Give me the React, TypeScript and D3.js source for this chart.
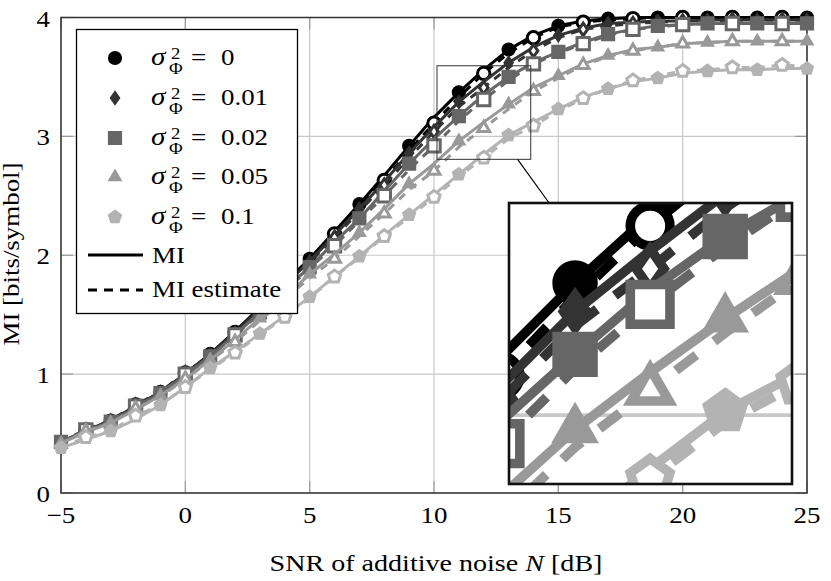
import React from 'react';
import * as d3 from 'd3';

// SNR grid in dB
const snrDb = [-5, -4, -3, -2, -1, 0, 1, 2, 3, 4, 5, 6, 7, 8, 9, 10, 11, 12, 13, 14, 15, 16, 17, 18, 19, 20, 21, 22, 23, 24, 25];
const sigmaLabels = ['0', '0.01', '0.02', '0.05', '0.1'];

// MI (solid) and MI estimate (dashed), bits/symbol
const miSigma0 = [0.43, 0.52, 0.61, 0.73, 0.85, 1.00, 1.17, 1.36, 1.56, 1.77, 1.97, 2.20, 2.43, 2.67, 2.92, 3.16, 3.37, 3.56, 3.73, 3.85, 3.93, 3.97, 3.99, 4.00, 4.00, 4.00, 4.00, 4.00, 4.00, 4.00, 4.00];
const estSigma0 = [0.43, 0.53, 0.61, 0.74, 0.85, 1.01, 1.16, 1.35, 1.55, 1.76, 1.96, 2.18, 2.41, 2.63, 2.88, 3.11, 3.33, 3.53, 3.70, 3.83, 3.92, 3.96, 3.98, 3.99, 4.00, 4.00, 4.00, 4.00, 4.00, 4.00, 4.00];
const miSigma001 = [0.43, 0.52, 0.61, 0.73, 0.85, 1.00, 1.17, 1.35, 1.55, 1.75, 1.95, 2.17, 2.39, 2.62, 2.86, 3.08, 3.29, 3.46, 3.62, 3.75, 3.85, 3.91, 3.95, 3.96, 3.97, 3.97, 3.98, 3.98, 3.98, 3.98, 3.98];
const estSigma001 = [0.43, 0.53, 0.61, 0.74, 0.85, 1.01, 1.16, 1.34, 1.54, 1.74, 1.94, 2.15, 2.37, 2.59, 2.82, 3.04, 3.25, 3.41, 3.58, 3.72, 3.83, 3.90, 3.93, 3.95, 3.96, 3.97, 3.97, 3.98, 3.98, 3.98, 3.98];
const miSigma002 = [0.43, 0.52, 0.60, 0.72, 0.84, 0.99, 1.15, 1.33, 1.52, 1.71, 1.90, 2.11, 2.31, 2.54, 2.77, 2.98, 3.17, 3.35, 3.50, 3.62, 3.71, 3.79, 3.86, 3.90, 3.93, 3.94, 3.95, 3.95, 3.95, 3.95, 3.95];
const estSigma002 = [0.43, 0.53, 0.60, 0.73, 0.84, 1.00, 1.14, 1.33, 1.51, 1.70, 1.89, 2.08, 2.29, 2.50, 2.72, 2.92, 3.13, 3.31, 3.47, 3.61, 3.70, 3.78, 3.85, 3.90, 3.92, 3.94, 3.95, 3.95, 3.95, 3.95, 3.95];
const miSigma005 = [0.42, 0.51, 0.59, 0.70, 0.82, 0.96, 1.12, 1.29, 1.47, 1.65, 1.84, 2.01, 2.19, 2.39, 2.60, 2.77, 2.96, 3.12, 3.27, 3.41, 3.51, 3.61, 3.68, 3.73, 3.75, 3.78, 3.79, 3.80, 3.80, 3.80, 3.80];
const estSigma005 = [0.42, 0.52, 0.59, 0.71, 0.81, 0.96, 1.11, 1.27, 1.45, 1.63, 1.81, 1.97, 2.16, 2.35, 2.55, 2.71, 2.91, 3.07, 3.23, 3.38, 3.49, 3.60, 3.67, 3.72, 3.75, 3.78, 3.79, 3.80, 3.80, 3.80, 3.80];
const miSigma01 = [0.38, 0.45, 0.52, 0.62, 0.74, 0.89, 1.05, 1.19, 1.34, 1.49, 1.65, 1.82, 1.99, 2.17, 2.34, 2.51, 2.68, 2.85, 3.01, 3.12, 3.23, 3.33, 3.40, 3.46, 3.49, 3.53, 3.55, 3.56, 3.56, 3.57, 3.57];
const estSigma01 = [0.38, 0.47, 0.52, 0.65, 0.74, 0.89, 1.04, 1.18, 1.33, 1.48, 1.64, 1.82, 1.98, 2.16, 2.32, 2.49, 2.66, 2.82, 2.98, 3.09, 3.21, 3.32, 3.40, 3.47, 3.51, 3.55, 3.56, 3.58, 3.58, 3.60, 3.59];

const xTicks = [-5, 0, 5, 10, 15, 20, 25];
const yTicks = [0, 1, 2, 3, 4];
// zoomed window of the inset, in data units
const zoomX = [10.12, 13.89];
const zoomY = [2.807, 3.594];

const miSeries = [miSigma0, miSigma001, miSigma002, miSigma005, miSigma01];
const estSeries = [estSigma0, estSigma001, estSigma002, estSigma005, estSigma01];
const seriesColors = ['#000000', '#333333', '#666666', '#999999', '#b3b3b3'];
const seriesMarks = ['circle', 'diamond', 'square', 'triangle', 'pentagon'];

const FONT = "'Liberation Serif', 'Times New Roman', serif";
const SX = 1.17; // the original uses a wide Computer Modern face
const LW = 3.0;
const MR = 6.2;

const x = d3.scaleLinear().domain([-5, 25]).range([61, 807]);
const y = d3.scaleLinear().domain([0, 4]).range([493, 17.5]);
const xi = d3.scaleLinear().domain(zoomX).range([509, 792]);
const yi = d3.scaleLinear().domain(zoomY).range([484, 203]);

function T({ x, y, anchor = 'start', size = 23, rotate = 0, italic = false, children }: any) {
  return (
    <text
      transform={`translate(${x},${y}) rotate(${rotate}) scale(${SX},1)`}
      textAnchor={anchor}
      fontSize={size}
      fontFamily={FONT}
      fontStyle={italic ? 'italic' : 'normal'}
      fill="#000"
    >
      {children}
    </text>
  );
}

function polygon(r: number, n: number, rot: number) {
  const pts = d3.range(n).map(k => {
    const a = rot + (k * 2 * Math.PI) / n;
    return [r * Math.cos(a), r * Math.sin(a)];
  });
  return 'M' + pts.map(p => p.join(',')).join('L') + 'Z';
}

function Mark({ kind, cx, cy, r, fill, stroke, sw }: any) {
  const common = { fill, stroke, strokeWidth: sw, strokeLinejoin: 'miter' as const };
  if (kind === 'circle') return <circle cx={cx} cy={cy} r={r} {...common} />;
  let d = '';
  if (kind === 'square') d = `M${-r},${-r}H${r}V${r}H${-r}Z`;
  if (kind === 'diamond') d = `M0,${-r}L${0.7 * r},0L0,${r}L${-0.7 * r},0Z`;
  if (kind === 'triangle') d = polygon(r * 1.1, 3, -Math.PI / 2);
  if (kind === 'pentagon') d = polygon(r * 1.05, 5, -Math.PI / 2);
  return <path d={d} transform={`translate(${cx},${cy})`} {...common} />;
}

function Curves({ sx, sy, k }: any) {
  const line = d3.line<number>().x((_, i) => sx(snrDb[i])).y(d => sy(d));
  return (
    <g>
      {sigmaLabels.map((_, s) => {
        const c = seriesColors[s];
        return (
          <g key={s}>
            <path d={line(miSeries[s]) || ''} fill="none" stroke={c} strokeWidth={LW * k} strokeLinejoin="round" />
            {miSeries[s].map((v, i) =>
              snrDb[i] % 2 !== 0 ? (
                <Mark key={i} kind={seriesMarks[s]} cx={sx(snrDb[i])} cy={sy(v)} r={MR * k} fill={c} stroke={c} sw={LW * k * 0.6} />
              ) : null
            )}
            <path d={line(estSeries[s]) || ''} fill="none" stroke={c} strokeWidth={LW * k} strokeDasharray={`${8 * k} ${7 * k}`} />
            {estSeries[s].map((v, i) =>
              snrDb[i] % 2 === 0 ? (
                <Mark key={i} kind={seriesMarks[s]} cx={sx(snrDb[i])} cy={sy(v)} r={MR * k} fill="#fff" stroke={c} sw={LW * k} />
              ) : null
            )}
          </g>
        );
      })}
    </g>
  );
}

function Legend() {
  const rows = [58, 98, 138, 177, 217];
  return (
    <g>
      <rect x={76.5} y={29.5} width={221} height={284} fill="#fff" stroke="#000" strokeWidth={1.3} />
      {sigmaLabels.map((lab, s) => {
        const cy = rows[s];
        const c = seriesColors[s];
        return (
          <g key={s}>
            <Mark kind={seriesMarks[s]} cx={115} cy={cy} r={MR} fill={c} stroke={c} sw={LW * 0.6} />
            <T x={151} y={cy + 7} size={25} italic>σ</T>
            <T x={171} y={cy + 1} size={16}>2</T>
            <T x={169} y={cy + 16} size={16}>Φ</T>
            <T x={191} y={cy + 7}>=</T>
            <T x={221} y={cy + 7}>{lab}</T>
          </g>
        );
      })}
      <line x1={88} x2={143} y1={255} y2={255} stroke="#000" strokeWidth={LW} />
      <T x={152} y={263}>MI</T>
      <line x1={88} x2={143} y1={290} y2={290} stroke="#000" strokeWidth={LW} strokeDasharray="9 7" />
      <T x={152} y={297}>MI estimate</T>
    </g>
  );
}

export default function App() {
  const [x0, x1] = x.range();
  const [y0, y1] = y.range();
  // spy rectangle and connector between centres
  const rx0 = x(zoomX[0]), rx1 = x(zoomX[1]), ry0 = y(zoomY[1]), ry1 = y(zoomY[0]);
  const ix0 = 509, ix1 = 792, iy0 = 203, iy1 = 484;
  const c1 = [(rx0 + rx1) / 2, (ry0 + ry1) / 2];
  const c2 = [(ix0 + ix1) / 2, (iy0 + iy1) / 2];
  const dx = c2[0] - c1[0], dy = c2[1] - c1[1];
  const t1 = Math.min((rx1 - rx0) / 2 / Math.abs(dx), (ry1 - ry0) / 2 / Math.abs(dy));
  const t2 = 1 - Math.min((ix1 - ix0) / 2 / Math.abs(dx), (iy1 - iy0) / 2 / Math.abs(dy));

  return (
    <svg width={831} height={581} style={{ display: 'block', position: 'absolute', left: 0, top: 0 }}>
      <rect width={831} height={581} fill="#fff" />
      <defs>
        <clipPath id="insetClip">
          <rect x={ix0} y={iy0} width={ix1 - ix0} height={iy1 - iy0} />
        </clipPath>
      </defs>

      {/* grid */}
      {xTicks.map(t => (
        <line key={'gx' + t} x1={x(t)} x2={x(t)} y1={y0} y2={y1} stroke="#c8c8c8" strokeWidth={1.2} />
      ))}
      {yTicks.map(t => (
        <line key={'gy' + t} x1={x0} x2={x1} y1={y(t)} y2={y(t)} stroke="#c8c8c8" strokeWidth={1.2} />
      ))}
      {/* ticks */}
      {xTicks.map(t => (
        <g key={'tx' + t} stroke="#9a9a9a" strokeWidth={1.2}>
          <line x1={x(t)} x2={x(t)} y1={y0} y2={y0 - 12} />
          <line x1={x(t)} x2={x(t)} y1={y1} y2={y1 + 12} />
        </g>
      ))}
      {yTicks.map(t => (
        <g key={'ty' + t} stroke="#9a9a9a" strokeWidth={1.2}>
          <line x1={x0} x2={x0 + 12} y1={y(t)} y2={y(t)} />
          <line x1={x1} x2={x1 - 12} y1={y(t)} y2={y(t)} />
        </g>
      ))}
      <rect x={x0} y={y1} width={x1 - x0} height={y0 - y1} fill="none" stroke="#333" strokeWidth={1.5} />

      <Curves sx={x} sy={y} k={1} />

      {/* tick labels */}
      {xTicks.map(t => (
        <T key={'lx' + t} x={x(t)} y={523} anchor="middle">{t < 0 ? '\u2212' + Math.abs(t) : String(t)}</T>
      ))}
      {yTicks.map(t => (
        <T key={'ly' + t} x={50} y={y(t) + 9} anchor="end">{String(t)}</T>
      ))}
      <T x={436} y={571} anchor="middle" size={24}>
        SNR of additive noise <tspan fontStyle="italic">N</tspan> [dB]
      </T>
      <T x={19} y={254} anchor="middle" rotate={-90}>MI [bits/symbol]</T>

      <Legend />

      {/* spy */}
      <rect x={rx0} y={ry0} width={rx1 - rx0} height={ry1 - ry0} fill="none" stroke="#333" strokeWidth={1} />
      <line
        x1={c1[0] + dx * t1}
        y1={c1[1] + dy * t1}
        x2={c1[0] + dx * t2}
        y2={c1[1] + dy * t2}
        stroke="#000"
        strokeWidth={1.2}
      />
      <rect x={ix0} y={iy0} width={ix1 - ix0} height={iy1 - iy0} fill="#fff" />
      <g clipPath="url(#insetClip)">
        {yTicks.filter(t => t > zoomY[0] && t < zoomY[1]).map(t => (
          <line key={'ig' + t} x1={ix0} x2={ix1} y1={yi(t)} y2={yi(t)} stroke="#c8c8c8" strokeWidth={3.6} />
        ))}
        <Curves sx={xi} sy={yi} k={3.2} />
      </g>
      <rect x={ix0} y={iy0} width={ix1 - ix0} height={iy1 - iy0} fill="none" stroke="#111" strokeWidth={2.6} />
    </svg>
  );
}
